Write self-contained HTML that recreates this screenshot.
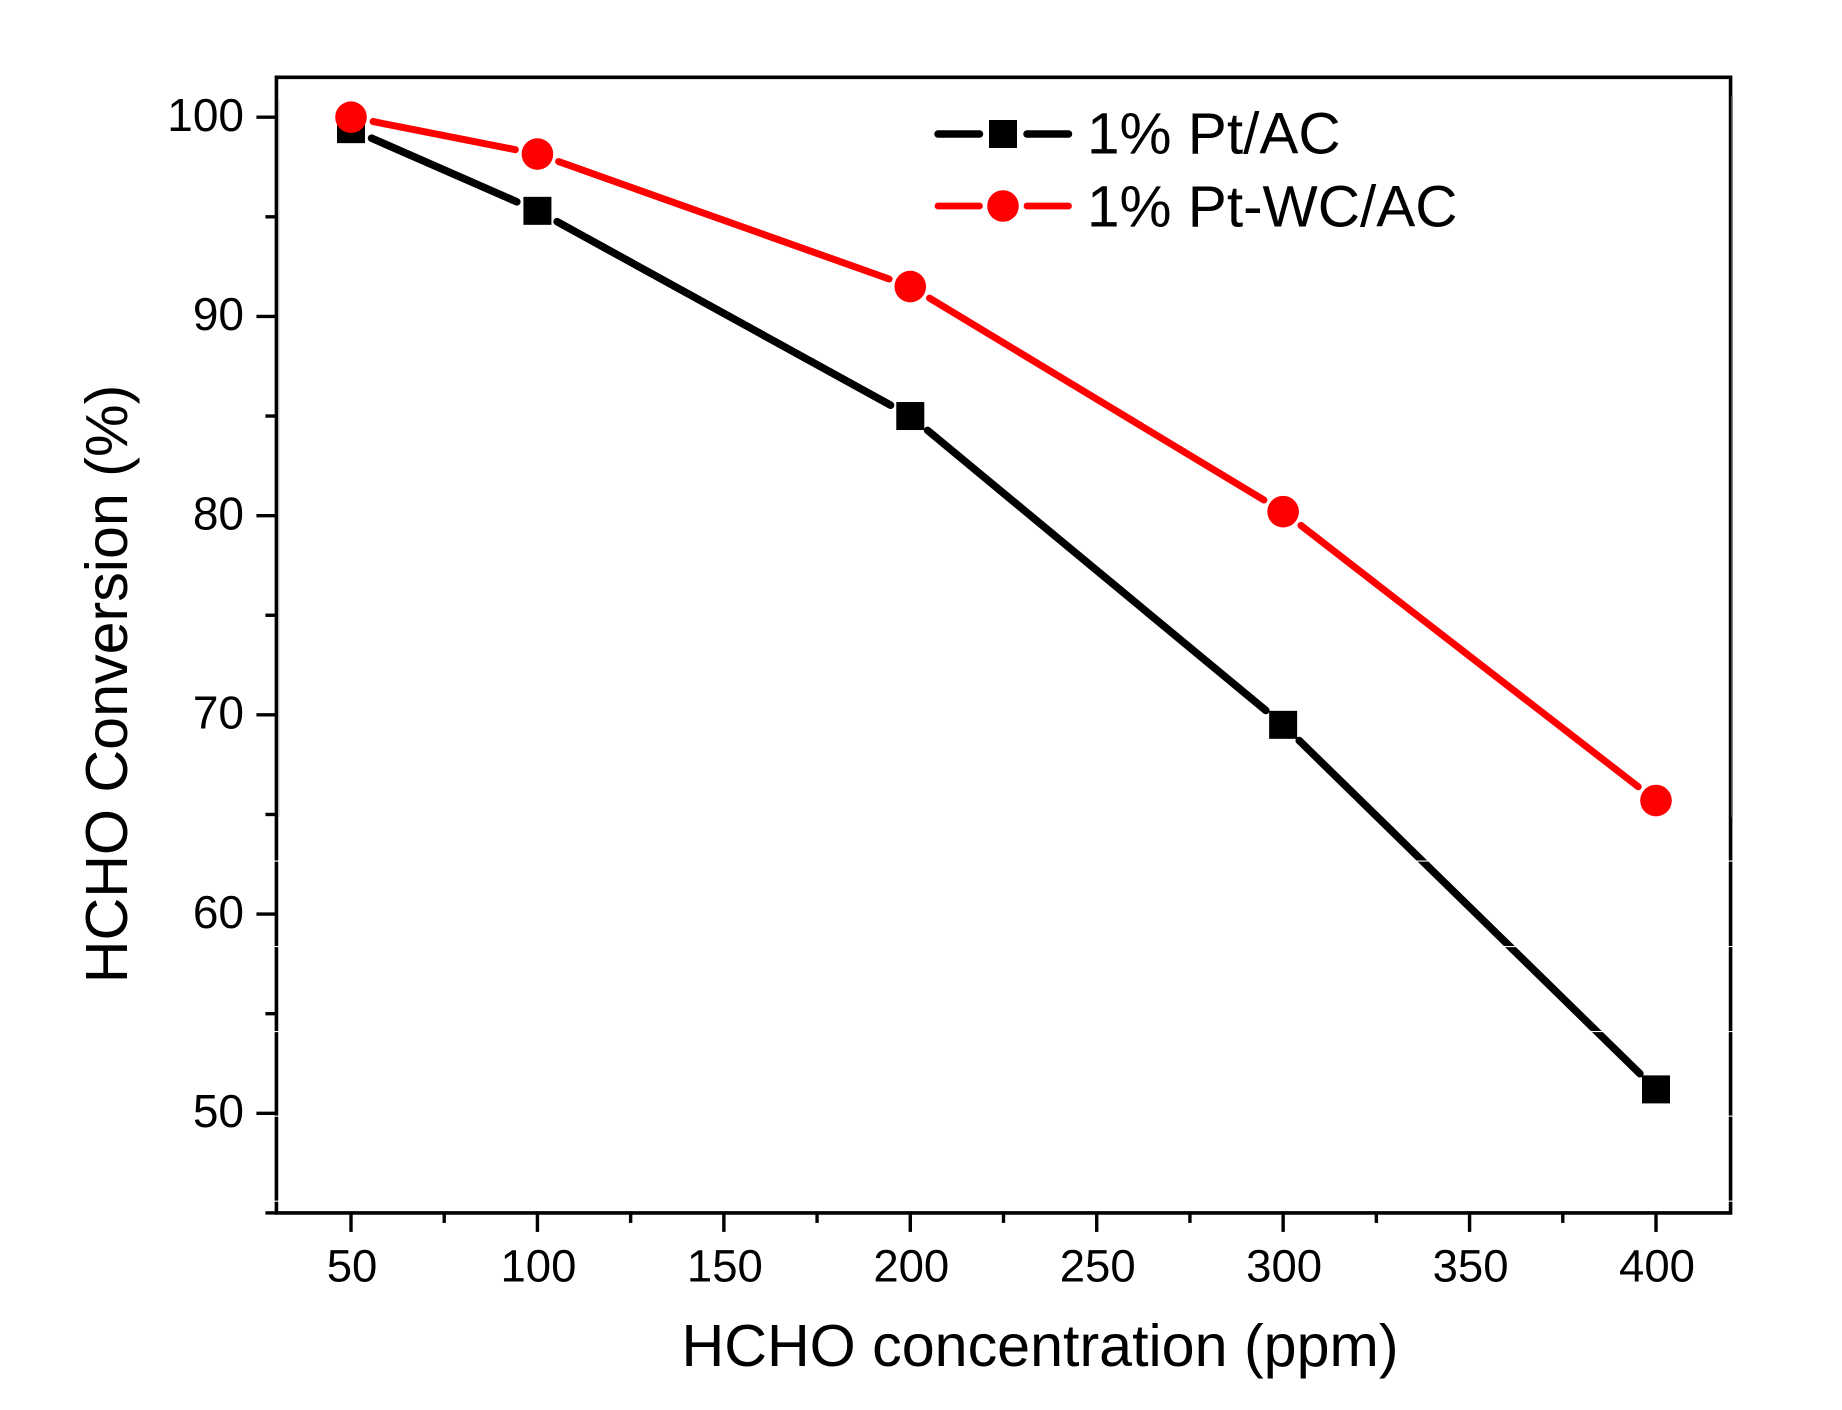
<!DOCTYPE html>
<html lang="en">
<head>
<meta charset="utf-8">
<title>HCHO conversion chart</title>
<style>
html,body{margin:0;padding:0;background:#fff;}
svg{display:block;}
text{font-family:"Liberation Sans",Arial,sans-serif;fill:#000;}
</style>
</head>
<body>
<svg id="chart" xmlns="http://www.w3.org/2000/svg" width="1842" height="1410" viewBox="0 0 1842 1410">
  <rect x="0" y="0" width="1842" height="1410" fill="#fff"/>
  <g id="axes"></g>
  <g id="series"></g>
  <rect x="278.2" y="100" width="1.4" height="717" fill="#ccc"/>
  <rect x="1731.4" y="96" width="1.5" height="721" fill="#777"/>
  <g fill="#fff">
    <rect x="274" y="860.5" width="1461" height="1.1"/>
    <rect x="274" y="946" width="1461" height="1.1"/>
    <rect x="274" y="1031" width="1461" height="1.1"/>
    <rect x="274" y="1115.6" width="1461" height="1.1"/>
    <rect x="274" y="1200.6" width="1461" height="1.1"/>
  </g>
  <g id="legend">
    <g>
      <line x1="938" y1="134" x2="979.5" y2="134" stroke="#000" stroke-width="7.5" stroke-linecap="round"/>
      <line x1="1027" y1="134" x2="1068.5" y2="134" stroke="#000" stroke-width="7.5" stroke-linecap="round"/>
      <rect x="989" y="120" width="28" height="28" fill="#000"/>
      <text x="1087" y="153.5" font-size="58.5">1% Pt/AC</text>
    </g>
    <g>
      <line x1="938" y1="206" x2="979.5" y2="206" stroke="#f00" stroke-width="6.8" stroke-linecap="round"/>
      <line x1="1027" y1="206" x2="1068.5" y2="206" stroke="#f00" stroke-width="6.8" stroke-linecap="round"/>
      <circle cx="1003" cy="206" r="15.8" fill="#f00"/>
      <text x="1087" y="226.5" font-size="58.5">1% Pt-WC/AC</text>
    </g>
  </g>
  <text x="1040" y="1366" font-size="59.2" text-anchor="middle">HCHO concentration (ppm)</text>
  <text transform="translate(127 684) rotate(-90)" x="0" y="0" font-size="59.2" text-anchor="middle">HCHO Conversion (%)</text>
</svg>
<script>
var concentrations = [50, 100, 200, 300, 400];
var ptAcValues = [99.4, 95.3, 85.0, 69.5, 51.2];
var ptWcAcValues = [100.0, 98.15, 91.5, 80.2, 65.7];
var xTickLabels = [50, 100, 150, 200, 250, 300, 350, 400];
var xMinorTicks = [75, 125, 175, 225, 275, 325, 375];
var yTickLabels = [50, 60, 70, 80, 90, 100];
var yMinorTicks = [45, 55, 65, 75, 85, 95];

var NS = 'http://www.w3.org/2000/svg';
function xScale(v) { return 351 + (v - 50) * (1656 - 351) / 350; }
function yScale(v) { return 117.2 + (100 - v) * (1113.3 - 117.2) / 50; }
var xLeft = xScale(30), xRight = xScale(420), yBottom = yScale(45), yTop = yScale(102);

function make(tag, attrs, parent) {
  var el = document.createElementNS(NS, tag);
  for (var k in attrs) el.setAttribute(k, attrs[k]);
  parent.appendChild(el);
  return el;
}

var axes = document.getElementById('axes');
var seriesGroup = document.getElementById('series');

var frame = make('path', {
  d: 'M' + xLeft + ' ' + yTop + 'H' + xRight + 'V' + yBottom + 'H' + xLeft + 'Z',
  fill: 'none', stroke: '#000', 'stroke-width': 3.6
}, axes);



xTickLabels.forEach(function (v) {
  var t = make('line', { x1: xScale(v), x2: xScale(v), y1: yBottom, y2: yBottom + 19, stroke: '#000', 'stroke-width': 3.4 }, axes);
  
  
  var l = make('text', { x: xScale(v) + 1, y: 1281.5, 'font-size': 45.5, 'text-anchor': 'middle' }, axes);
  
  
  l.textContent = v;
});
xMinorTicks.forEach(function (v) {
  var t = make('line', { x1: xScale(v), x2: xScale(v), y1: yBottom, y2: yBottom + 10, stroke: '#000', 'stroke-width': 3.4 }, axes);
  
  
});
yTickLabels.forEach(function (v) {
  var t = make('line', { x1: xLeft - 20, x2: xLeft, y1: yScale(v), y2: yScale(v), stroke: '#000', 'stroke-width': 3.4 }, axes);
  
  
  var l = make('text', { x: 244, y: yScale(v) + 13.8, 'font-size': 46, 'text-anchor': 'end' }, axes);
  
  
  l.textContent = v;
});
yMinorTicks.forEach(function (v) {
  var t = make('line', { x1: xLeft - 11, x2: xLeft, y1: yScale(v), y2: yScale(v), stroke: '#000', 'stroke-width': 3.4 }, axes);
  
  
});

function drawSegments(values, color, width, name) {
  var gap = 22.5;
  for (var i = 0; i < values.length - 1; i++) {
    var ax = xScale(concentrations[i]), ay = yScale(values[i]);
    var bx = xScale(concentrations[i + 1]), by = yScale(values[i + 1]);
    var dx = bx - ax, dy = by - ay, len = Math.sqrt(dx * dx + dy * dy);
    var ux = dx / len, uy = dy / len;
    var seg = make('line', {
      x1: ax + ux * gap, y1: ay + uy * gap, x2: bx - ux * gap, y2: by - uy * gap,
      stroke: color, 'stroke-width': width, 'stroke-linecap': 'round'
    }, seriesGroup);
    
    
  }
}

drawSegments(ptAcValues, '#000', 7.6, 'pt-ac');
drawSegments(ptWcAcValues, '#f00', 7, 'pt-wc-ac');

ptAcValues.forEach(function (v, i) {
  var m = make('rect', { x: xScale(concentrations[i]) - 14, y: yScale(v) - 14, width: 28, height: 28, fill: '#000' }, seriesGroup);
  
  
});
ptWcAcValues.forEach(function (v, i) {
  var m = make('circle', { cx: xScale(concentrations[i]), cy: yScale(v), r: 15.8, fill: '#f00' }, seriesGroup);
  
  
});
</script>
</body>
</html>
